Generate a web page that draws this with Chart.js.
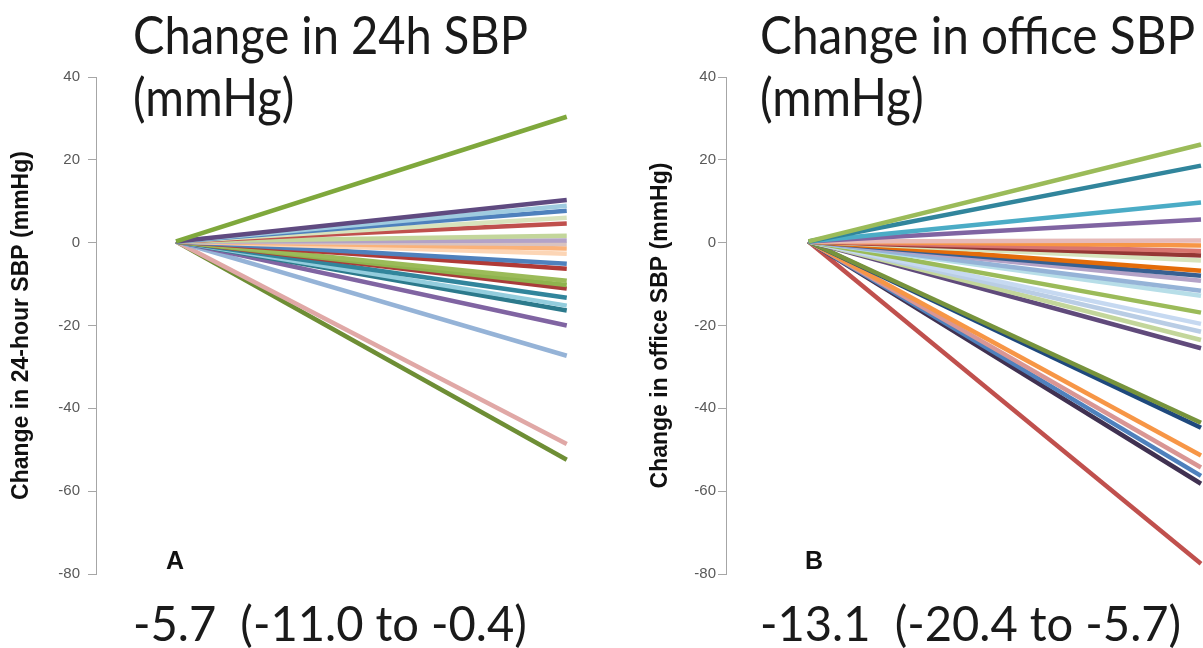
<!DOCTYPE html>
<html>
<head>
<meta charset="utf-8">
<script src="https://cdn.jsdelivr.net/npm/chart.js@4.4.1/dist/chart.umd.min.js"></script>
<style>
  body { margin: 0; background: #fff; width: 1203px; height: 648px; position: relative; overflow: hidden; }
  canvas { position: absolute; top: 0; }
  .big { position: absolute; font-family: Lato, sans-serif; color: #1a1a1a; white-space: pre; transform-origin: 0 0; }
  .head { font-size: 52px; line-height: 62px; top: 3px; }
  .foot { font-size: 48px; line-height: 56px; top: 595px; }
  .tag { position: absolute; font: bold 25px "Liberation Sans", Arial, sans-serif; line-height: 25px; top: 548px; color: #111; }
</style>
</head>
<body>
<canvas id="chart24h"></canvas>
<canvas id="chartOffice"></canvas>

<div class="big head" id="head24h" data-w="395">Change in 24h SBP
(mmHg)</div>
<div class="big head" id="headOffice" data-w="435">Change in office SBP
(mmHg)</div>
<div class="big foot" id="foot24h" data-w="394">-5.7  (-11.0 to -0.4)</div>
<div class="big foot" id="footOffice" data-w="421">-13.1  (-20.4 to -5.7)</div>
<div class="tag" style="left:166px">A</div>
<div class="tag" style="left:805px">B</div>

<script>
// every line goes from the baseline (x = 0) to the follow-up change (x = 1)
const timepoints = [0, 1];
const startValue = 0.3;
const yTicks = [40, 20, 0, -20, -40, -60, -80];

// A: change in 24-hour SBP per patient
const change24h = [30.4, 10.3, 8.9, 7.7, 6.0, 4.6, 1.7, 0.5, -0.3, -1.4, -2.7, -5.1, -6.3,
  -9.2, -10.2, -11.1, -13.3, -15.2, -16.4, -20.0, -27.3, -48.6, -52.4];
const colors24h = ["#7fa83c", "#5f4a80", "#9fcbe0", "#4f81bd", "#d8e3bd", "#c0504d", "#c3d69b",
  "#b3a2c7", "#d9c3c0", "#fab27a", "#fcd5b5", "#4f81bd", "#b03a37",
  "#9bbb59", "#8fb34e", "#a83c3a", "#31859c", "#93cddd", "#2c7a8c", "#8064a2", "#95b3d7", "#e0a8a6", "#6e8e35"];

// B: change in office SBP per patient
const changeOffice = [23.7, 18.6, 9.7, 5.6, 0.5, -0.7, -2.0, -3.1, -4.3, -6.8, -8.0, -9.2,
  -11.6, -12.8, -16.9, -19.6, -21.5, -23.5, -25.5, -43.5, -44.7, -51.4, -54.3, -56.3, -58.2, -77.5];
const colorsOffice = ["#9bbb59", "#31859c", "#4bacc6", "#8064a2", "#e6b9b8", "#f79646", "#d9756f",
  "#953735", "#d7e4bd", "#e46c0a", "#376092", "#b3a2c7",
  "#95b3d7", "#b7dee8", "#9bbb59", "#c6d9f1", "#b9cde5", "#c3d69b", "#604a7b", "#77933c", "#1f497d",
  "#f79646", "#d99694", "#4f81bd", "#403151", "#c0504d"];

function makeDatasets(ends, palette) {
  return ends.map((end, i) => ({
    data: timepoints.map((t) => ({ x: t, y: t === 0 ? startValue : end })),
    borderColor: palette[i],
    borderWidth: 4.5,
    pointRadius: 0,
    clip: false,
  }));
}

function panel(canvasId, left, width, ends, palette, axisTitle, axisWidth, xRange, titlePad, tickPad) {
  const canvas = document.getElementById(canvasId);
  canvas.style.left = left + "px";
  canvas.width = width;
  canvas.height = 648;

  return new Chart(canvas, {
    type: "line",
    data: { datasets: makeDatasets(ends, palette) },
    options: {
      responsive: false,
      animation: false,
      layout: { padding: { top: 77, bottom: 74, right: 2, left: 0 } },
      plugins: { legend: { display: false }, tooltip: { enabled: false } },
      scales: {
        x: { type: "linear", display: false, min: xRange[0], max: xRange[1] },
        y: {
          min: -80,
          max: 40,
          afterFit: (scale) => { scale.width = axisWidth; },
          afterBuildTicks: (scale) => { scale.ticks = yTicks.map((v) => ({ value: v })); },
          ticks: { color: "#595959", padding: tickPad, font: { family: "Liberation Sans", size: 15 } },
          grid: { drawOnChartArea: false, tickLength: 8, color: "#a6a6a6" },
          border: { color: "#a6a6a6" },
          title: {
            display: true,
            text: axisTitle,
            color: "#111",
            padding: { top: titlePad, bottom: 0 },
            font: { family: "Liberation Sans", size: 23, weight: "bold" },
          },
        },
      },
    },
  });
}

panel("chart24h", 0, 600, change24h, colors24h, "Change in 24-hour SBP (mmHg)", 96, [-0.205, 1.08], 8, 8);
panel("chartOffice", 646, 557, changeOffice, colorsOffice, "Change in office SBP (mmHg)", 80, [-0.21, 1.0], 1, 2);

// squeeze the big captions to their widths
document.querySelectorAll(".big").forEach((el) => {
  el.style.left = { head24h: 133, headOffice: 760, foot24h: 133, footOffice: 760 }[el.id] + "px";
  const w = el.getBoundingClientRect().width;
  el.style.transform = `scaleX(${(+el.dataset.w / w).toFixed(3)})`;
});
</script>
</body>
</html>
